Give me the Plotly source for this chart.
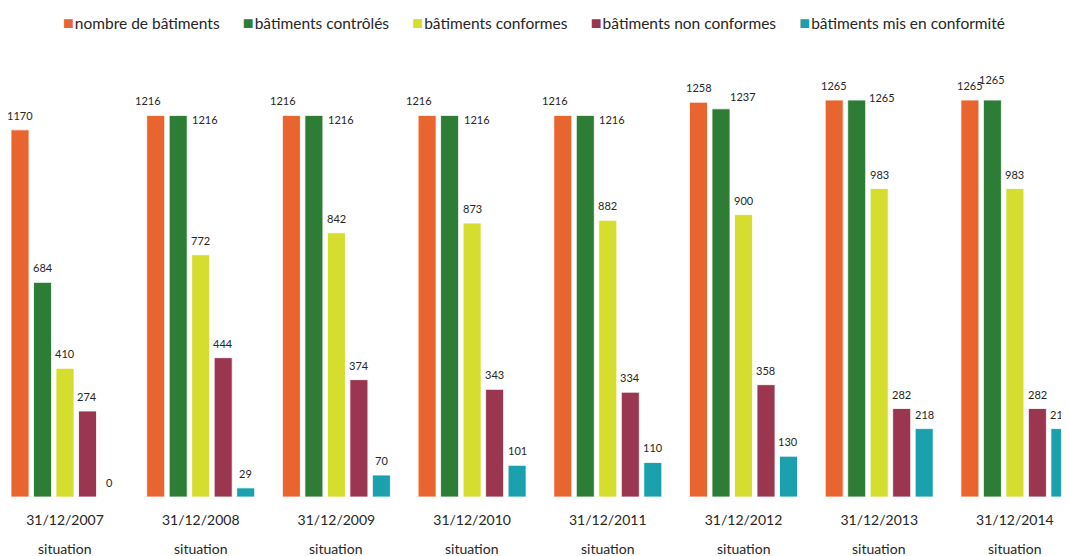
import plotly.graph_objects as go

categories = ["31/12/2007", "31/12/2008", "31/12/2009", "31/12/2010",
              "31/12/2011", "31/12/2012", "31/12/2013", "31/12/2014"]
sub_label = "situation"

series_names = ["nombre de bâtiments", "bâtiments contrôlés", "bâtiments conformes",
                "bâtiments non conformes", "bâtiments mis en conformité"]
nombre = [1170, 1216, 1216, 1216, 1216, 1258, 1265, 1265]
controles = [684, 1216, 1216, 1216, 1216, 1237, 1265, 1265]
conformes = [410, 772, 842, 873, 882, 900, 983, 983]
non_conformes = [274, 444, 374, 343, 334, 358, 282, 282]
mis_en_conformite = [0, 29, 70, 101, 110, 130, 218, 218]

colors = ["#E96530", "#2E7D36", "#D5DD2E", "#9B3650", "#1BA1AD"]
all_values = [nombre, controles, conformes, non_conformes, mis_en_conformite]

FONT = "Lato"
TXT = "#262626"

# layout geometry (page body has an 8px offset)
FIG_W, FIG_H = 1069, 556
PITCH = 135.7           # px per category
FIRST_CENTER = 57       # px of first category centre inside figure
BARGAP, BARGROUPGAP = 0.171, 0.2
SLOT = PITCH * (1 - BARGAP) / 5
T_MARGIN, B_MARGIN = 52, 67
PLOT_H = FIG_H - T_MARGIN - B_MARGIN
Y_MAX = 1392.6

x_lo = -FIRST_CENTER / PITCH
x_hi = (FIG_W - FIRST_CENTER) / PITCH

fig = go.Figure()
for name, vals, col in zip(series_names, all_values, colors):
    fig.add_trace(go.Bar(
        name=name, x=categories, y=vals,
        marker=dict(color=col, line=dict(color="white", width=0.8)),
        showlegend=False,
    ))

lab_font = dict(family=FONT, size=11, color=TXT)
annotations = []
# green label placement per category (style choice, as in the reference)
green_place = {"31/12/2007": "above", "31/12/2012": "above-right",
               "31/12/2013": "right-high", "31/12/2014": "above-high"}
orange_shift = {"31/12/2008": -8, "31/12/2009": -8, "31/12/2010": -8, "31/12/2011": -8}

for si, vals in enumerate(all_values):
    off = (si - 2) * SLOT
    for cat, v in zip(categories, vals):
        a = dict(x=cat, y=v, xref="x", yref="y", text=str(v), showarrow=False,
                 font=lab_font, xanchor="center", yanchor="bottom",
                 xshift=off, yshift=6)
        if si == 0:
            a["xshift"] = off + orange_shift.get(cat, 0)
        if si == 1:
            p = green_place.get(cat, "right")
            if p == "right":
                a.update(xanchor="left", yanchor="middle", xshift=off + SLOT * 0.4 + 3, yshift=-4)
            elif p == "right-high":
                a.update(xanchor="left", yanchor="middle", xshift=off + SLOT * 0.4 + 1, yshift=3)
            elif p == "above-right":
                a.update(xanchor="left", yanchor="middle", xshift=off + SLOT * 0.4 - 2, yshift=12)
            elif p == "above-high":
                a.update(yshift=12)
        annotations.append(a)

for cat in categories:
    annotations.append(dict(x=cat, y=-(540 - (FIG_H - B_MARGIN)) / PLOT_H, xref="x", yref="paper",
                            text=sub_label, showarrow=False, xanchor="center", yanchor="middle",
                            font=dict(family=FONT, size=14, color=TXT)))

# legend drawn as a single centred line of coloured squares and names
gap = "\u2003\u2002\u2005"
legend_text = gap.join(
    f'<span style="color:{c};font-size:18px">■</span>\u200a{n}'
    for n, c in zip(series_names, colors))
annotations.append(dict(x=(534 - 8) / FIG_W, y=1 + (T_MARGIN - 14) / PLOT_H,
                        xref="paper", yref="paper",
                        text=legend_text, showarrow=False, xanchor="center", yanchor="middle",
                        font=dict(family=FONT, size=15.5, color=TXT)))

fig.update_layout(
    width=FIG_W, height=FIG_H,
    margin=dict(l=0, r=0, t=T_MARGIN, b=B_MARGIN),
    paper_bgcolor="white", plot_bgcolor="white",
    barmode="group", bargap=BARGAP, bargroupgap=BARGROUPGAP,
    font=dict(family=FONT, size=14, color=TXT),
    showlegend=False,
    xaxis=dict(type="category", range=[x_lo, x_hi], showgrid=False, showline=False,
               zeroline=False, ticks="", tickfont=dict(family=FONT, size=14, color=TXT),
               ticklabelstandoff=13),
    yaxis=dict(range=[0, Y_MAX], visible=False, showgrid=False, zeroline=False),
    annotations=annotations,
)

fig.write_html("out.html")
